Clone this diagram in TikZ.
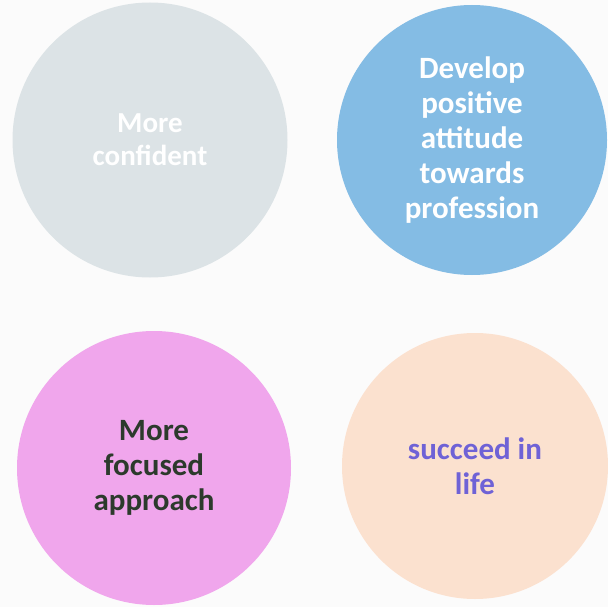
\documentclass[tikz,border=0pt]{standalone}
\usepackage{fontspec}
\setmainfont{Carlito}
\begin{document}
\begin{tikzpicture}[x=1pt,y=-1pt,
  blob/.style={circle,inner sep=0pt,align=center,
    font=\fontsize{31}{35}\selectfont\bfseries}]
\definecolor{cgray}{HTML}{DCE3E6}
\definecolor{cblue}{HTML}{84BCE4}
\definecolor{cpink}{HTML}{F0A6EC}
\definecolor{cpeach}{HTML}{FBE1CF}
\definecolor{tgreen}{HTML}{2C3A2C}
\definecolor{tpurple}{HTML}{6F62D6}
\fill[white!97!gray] (0,0) rectangle (608,607);
\useasboundingbox (0,0) rectangle (608,607);
\node[blob,fill=cgray,minimum size=275pt,text=white,
  font=\fontsize{29}{33}\selectfont\bfseries] (a) at (150,140) {More\\confident};
\node[blob,fill=cblue,minimum size=270pt,text=white] (b) at (472,140)
  {Develop\\positive\\attitude\\towards\\profession};
\node[blob,fill=cpink,minimum size=274pt,text=tgreen] (c) at (154,468)
  {More\\focused\\approach};
\node[blob,fill=cpeach,minimum size=266pt,text=tpurple] (d) at (475,466)
  {succeed in\\life};
\end{tikzpicture}
\end{document}
